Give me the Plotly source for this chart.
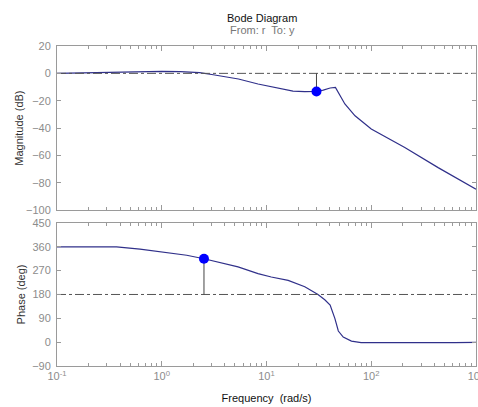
import numpy as np
import plotly.graph_objects as go
from plotly.subplots import make_subplots

# ---- data ----
mag_freq = [0.1, 0.2, 0.4, 0.7, 1.0, 1.5, 2.3, 3.1, 4.2, 5.4, 8.3, 12.9, 17.9, 23.2,
            30.0, 34.8, 40.5, 45.5, 48.5, 56.0, 70.0, 100.0, 209.0, 435.0, 1000.0]
mag_db = [0.0, 0.5, 0.9, 1.4, 1.5, 1.2, 0.5, -1.0, -2.6, -4.1, -7.8, -10.7, -13.0, -13.3,
          -13.2, -12.2, -10.7, -10.3, -13.9, -22.4, -31.0, -40.7, -54.2, -68.9, -84.7]

ph_freq = [0.1, 0.37, 0.62, 1.12, 1.73, 2.53, 3.6, 5.35, 8.3, 11.1, 16.1, 23.2, 31.0,
           36.0, 40.5, 45.0, 48.5, 54.0, 64.7, 80.0, 630.0, 1000.0]
ph_deg = [360, 360, 351, 337, 328, 315, 300, 284, 259, 246, 233, 209, 180,
          160, 140, 89, 42, 19, 4, -2, -2, -1]

gm_freq, gm_val = 30.0, -13.2      # magnitude margin marker
pm_freq, pm_val = 2.53, 315.0      # phase margin marker
mag_ref, ph_ref = 0, 180

x_range = [0.1, 1000]
x_tickvals = [0.1, 1, 10, 100, 1000]
x_ticktext = ["10<sup>-1</sup>", "10<sup>0</sup>", "10<sup>1</sup>", "10<sup>2</sup>", "10<sup>3</sup>"]
mag_ticks = [20, 0, -20, -40, -60, -80, -100]
ph_ticks = [450, 360, 270, 180, 90, 0, -90]

minor_vals = [d * m for d in [0.1, 1, 10, 100] for m in range(2, 10)]

line_col = "#30308a"
grey = "#8c8c8c"
axcol = "#9a9a9a"
font = "Liberation Sans, Arial, sans-serif"

fig = make_subplots(rows=2, cols=1, shared_xaxes=False, vertical_spacing=0.04)

fig.add_trace(go.Scatter(x=mag_freq, y=mag_db, mode="lines",
                         line=dict(color=line_col, width=1.2), showlegend=False), row=1, col=1)
fig.add_trace(go.Scatter(x=[0.1, 1000], y=[mag_ref, mag_ref], mode="lines",
                         line=dict(color="#555555", width=1, dash="dashdot"), showlegend=False), row=1, col=1)
fig.add_trace(go.Scatter(x=[gm_freq, gm_freq], y=[mag_ref, gm_val], mode="lines",
                         line=dict(color="#444444", width=1), showlegend=False), row=1, col=1)
fig.add_trace(go.Scatter(x=[gm_freq], y=[gm_val], mode="markers",
                         marker=dict(color="#0000ff", size=10), showlegend=False), row=1, col=1)

fig.add_trace(go.Scatter(x=ph_freq, y=ph_deg, mode="lines",
                         line=dict(color=line_col, width=1.2), showlegend=False), row=2, col=1)
fig.add_trace(go.Scatter(x=[0.1, 1000], y=[ph_ref, ph_ref], mode="lines",
                         line=dict(color="#555555", width=1, dash="dashdot"), showlegend=False), row=2, col=1)
fig.add_trace(go.Scatter(x=[pm_freq, pm_freq], y=[ph_ref, pm_val], mode="lines",
                         line=dict(color="#444444", width=1), showlegend=False), row=2, col=1)
fig.add_trace(go.Scatter(x=[pm_freq], y=[pm_val], mode="markers",
                         marker=dict(color="#0000ff", size=10), showlegend=False), row=2, col=1)

top_bottom = 0.487
bot_top = 0.447

xcommon = dict(type="log", range=[np.log10(x_range[0]), np.log10(x_range[1])],
               tickmode="array", tickvals=x_tickvals, ticktext=x_ticktext,
               ticks="inside", ticklen=5, tickcolor=axcol, showline=True, linecolor=axcol,
               mirror="allticks", showgrid=False, zeroline=False, automargin=False,
               ticklabeloverflow="allow",
               tickfont=dict(family=font, size=11, color=grey),
               minor=dict(tickvals=minor_vals, ticks="inside", ticklen=3, tickcolor=axcol, showgrid=False))
fig.update_xaxes(**xcommon)
fig.update_xaxes(showticklabels=False, row=1, col=1)
fig.update_xaxes(row=2, col=1,
                 title=dict(text="Frequency  (rad/s)", font=dict(family=font, size=11, color="#111111"), standoff=13))

ycommon = dict(ticks="inside", ticklen=4, tickcolor=axcol, showline=True, linecolor=axcol,
               mirror="ticks", showgrid=False, zeroline=False, automargin=False,
               ticklabeloverflow="allow",
               tickfont=dict(family=font, size=11, color=grey), ticklabelstandoff=3)
fig.update_yaxes(**ycommon)
fig.update_yaxes(row=1, col=1, range=[-100, 20], tickmode="array", tickvals=mag_ticks,
                 domain=[top_bottom, 1],
                 title=dict(text="Magnitude (dB)", font=dict(family=font, size=11, color="#333333"), standoff=0))
fig.update_yaxes(row=2, col=1, range=[-90, 450], tickmode="array", tickvals=ph_ticks,
                 domain=[0, bot_top],
                 title=dict(text="Phase (deg)", font=dict(family=font, size=11, color="#333333"), standoff=4))

fig.add_annotation(text="Bode Diagram", xref="paper", yref="paper", x=0.49, y=1.0876,
                   showarrow=False, yanchor="middle", font=dict(family=font, size=11, color="#111111"))
fig.add_annotation(text="From: r  To: y", xref="paper", yref="paper", x=0.49, y=1.050,
                   showarrow=False, yanchor="middle", font=dict(family=font, size=11, color="#777777"))

fig.update_layout(width=478, height=407, template="none",
                  margin=dict(l=57, r=2, t=46, b=41),
                  paper_bgcolor="white", plot_bgcolor="white", showlegend=False)

fig.write_html("out.html", config={"displayModeBar": False},
               post_script="document.body.style.margin='0';document.body.style.overflow='hidden';")
